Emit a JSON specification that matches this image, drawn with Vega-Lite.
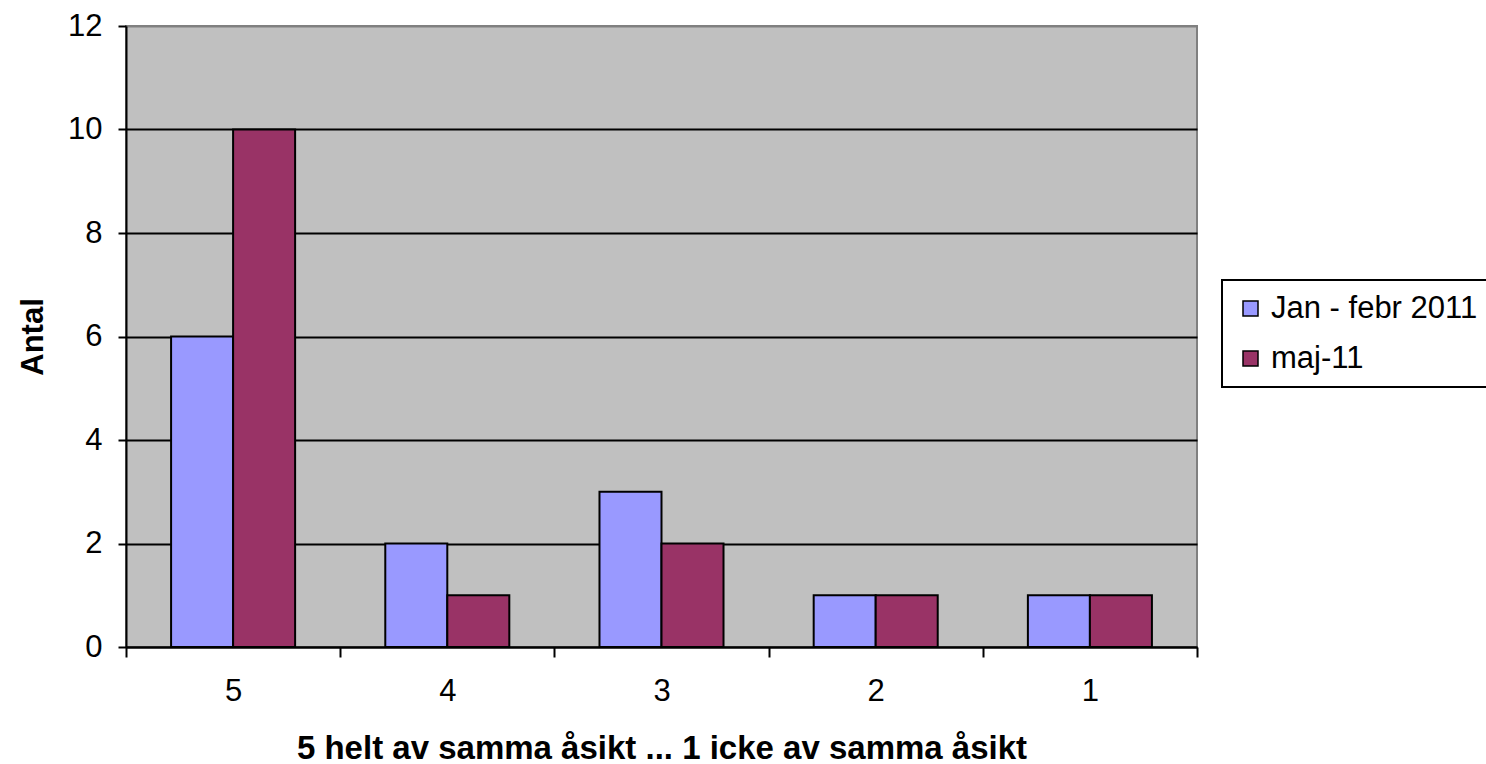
{
  "$schema": "https://vega.github.io/schema/vega-lite/v6.json",
  "width": 1071,
  "height": 621,
  "autosize": "none",
  "padding": {"left": 126, "top": 26, "right": 289, "bottom": 117},
  "background": "white",
  "config": {
    "font": "Liberation Sans",
    "view": {"fill": "#C0C0C0", "stroke": "#808080", "strokeWidth": 2}
  },
  "data": {
    "values": [
      {"score": "5", "period": "Jan - febr 2011", "antal": 6},
      {"score": "5", "period": "maj-11", "antal": 10},
      {"score": "4", "period": "Jan - febr 2011", "antal": 2},
      {"score": "4", "period": "maj-11", "antal": 1},
      {"score": "3", "period": "Jan - febr 2011", "antal": 3},
      {"score": "3", "period": "maj-11", "antal": 2},
      {"score": "2", "period": "Jan - febr 2011", "antal": 1},
      {"score": "2", "period": "maj-11", "antal": 1},
      {"score": "1", "period": "Jan - febr 2011", "antal": 1},
      {"score": "1", "period": "maj-11", "antal": 1}
    ]
  },
  "mark": {"type": "bar", "stroke": "black", "strokeWidth": 2},
  "encoding": {
    "x": {
      "field": "score",
      "type": "nominal",
      "sort": ["5", "4", "3", "2", "1"],
      "scale": {"paddingInner": 0, "paddingOuter": 0},
      "axis": {
        "title": "5 helt av samma åsikt ... 1 icke av samma åsikt",
        "titleFontSize": 33,
        "titleFontWeight": "bold",
        "titleColor": "black",
        "titlePadding": 26,
        "labelAngle": 0,
        "labelFontSize": 31,
        "labelFontWeight": "normal",
        "labelColor": "black",
        "labelPadding": 19,
        "tickBand": "extent",
        "tickSize": 10,
        "tickColor": "black",
        "tickWidth": 2,
        "domainColor": "black",
        "domainWidth": 2,
        "grid": false
      }
    },
    "xOffset": {
      "field": "period",
      "type": "nominal",
      "sort": ["Jan - febr 2011", "maj-11"],
      "scale": {"paddingInner": 0, "paddingOuter": 0.727}
    },
    "y": {
      "field": "antal",
      "type": "quantitative",
      "scale": {"domain": [0, 12], "nice": false},
      "axis": {
        "title": "Antal",
        "titleFontSize": 31,
        "titleFontWeight": "bold",
        "titleColor": "black",
        "titlePadding": 18,
        "values": [0, 2, 4, 6, 8, 10, 12],
        "labelFontSize": 31,
        "labelColor": "black",
        "labelPadding": 16,
        "tickSize": 8,
        "tickColor": "black",
        "tickWidth": 2,
        "domainColor": "black",
        "domainWidth": 2,
        "grid": true,
        "gridColor": {"condition": {"test": "datum.value === 12", "value": "#808080"}, "value": "black"},
        "gridWidth": 2,
        "gridOpacity": 1
      }
    },
    "color": {
      "field": "period",
      "type": "nominal",
      "scale": {"domain": ["Jan - febr 2011", "maj-11"], "range": ["#9999FF", "#993366"]},
      "legend": {
        "title": null,
        "orient": "none",
        "legendX": 1096,
        "legendY": 254,
        "labelFontSize": 31,
        "labelColor": "black",
        "labelLimit": 400,
        "symbolType": "square",
        "symbolSize": 225,
        "symbolStrokeColor": "black",
        "symbolStrokeWidth": 1.5,
        "symbolOpacity": 1,
        "labelOffset": 5,
        "rowPadding": 18,
        "padding": 13,
        "strokeColor": "black",
        "fillColor": "white",
        "encode": {"legend": {"update": {"strokeWidth": {"value": 2}}}}
      }
    }
  }
}
